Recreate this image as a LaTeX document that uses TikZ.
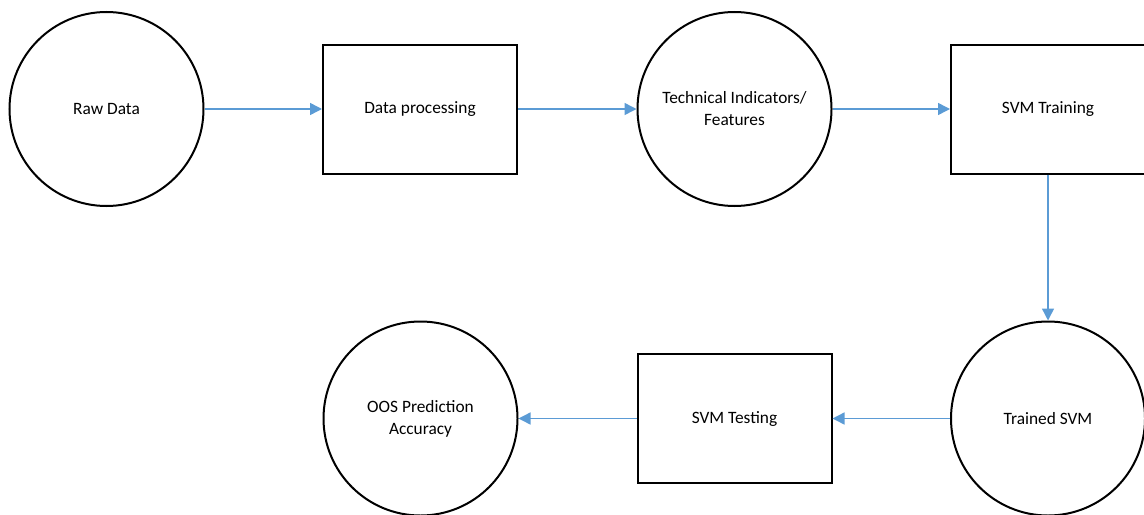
\documentclass[tikz,border=0pt]{standalone}
\usepackage{fontspec}
\setmainfont{Carlito}
\usetikzlibrary{arrows.meta}
\definecolor{arrowblue}{RGB}{91,155,213}
\tikzset{
  proc/.style={draw=black, line width=1.5pt, fill=white, minimum width=194*0.75pt, minimum height=129*0.75pt, inner sep=0pt, align=center, font=\fontsize{13}{16.5}\selectfont},
  ent/.style={draw=black, line width=1.5pt, fill=white, circle, minimum size=194*0.75pt, inner sep=0pt, align=center, font=\fontsize{13}{16.5}\selectfont},
  flow/.style={draw=arrowblue, line width=1.1pt, -{Triangle[length=9pt,width=9pt]}}
}
\begin{document}
\begin{tikzpicture}[x=0.75pt,y=-0.75pt]
\useasboundingbox (0,0) rectangle (1144,514);
\clip (0,0) rectangle (1144,514);
\node[ent] (raw) at (106.5,109) {Raw Data};
\node[proc] (dp) at (420,109) {Data processing};
\node[ent] (ti) at (734.5,109) {Technical Indicators/\\Features};
\node[proc] (train) at (1048,109) {SVM Training};
\node[ent] (trained) at (1048,418.5) {Trained SVM};
\node[proc] (test) at (734.5,418.5) {SVM Testing};
\node[ent] (oos) at (420.5,418.5) {OOS Prediction\\Accuracy};
\draw[flow] (raw) -- (dp);
\draw[flow] (dp) -- (ti);
\draw[flow] (ti) -- (train);
\draw[flow] (train) -- (trained);
\draw[flow] (trained) -- (test);
\draw[flow] (test) -- (oos);
\end{tikzpicture}
\end{document}
